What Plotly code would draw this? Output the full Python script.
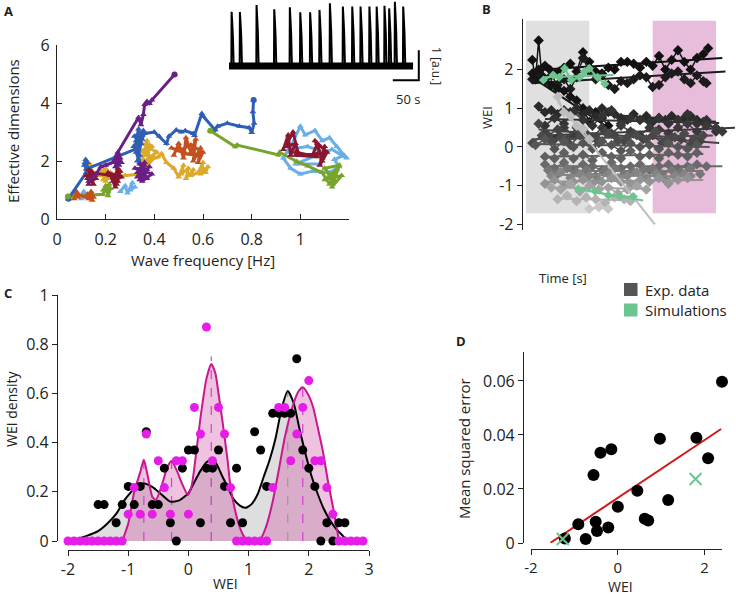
import plotly.graph_objects as go

W, H = 736, 595
FONT = "Open Sans"
INK = "#222222"

def fx(px):
    return px / W

def fy(py):
    return 1 - py / H

# ---------------- Panel A data ----------------
A_colors = {"blue": "#2f5fb5", "rust": "#c4501e", "gold": "#dcaa28", "purple": "#6a1f86",
            "green": "#77a52a", "lightblue": "#6aaee6", "darkred": "#8a1630"}

A_blue_x = [0.047, 0.12, 0.115, 0.125, 0.118, 0.128, 0.112, 0.125, 0.12,
            0.32, 0.335, 0.325, 0.35, 0.315, 0.34, 0.33, 0.345, 0.318, 0.355, 0.33, 0.34, 0.325, 0.35, 0.36,
            0.40, 0.42, 0.45, 0.46, 0.49, 0.51, 0.527, 0.56, 0.565, 0.595, 0.60, 0.65, 0.66, 0.70, 0.75, 0.79, 0.80, 0.81, 0.805, 0.808]
A_blue_y = [0.70, 1.60, 1.95, 1.75, 2.05, 1.70, 1.85, 1.95, 1.72,
            2.4, 3.1, 2.7, 2.9, 2.5, 2.2, 2.0, 2.6, 2.85, 3.05, 2.7, 1.95, 2.3, 2.75, 2.95,
            3.0, 2.85, 2.6, 2.85, 3.07, 3.0, 3.04, 2.95, 2.88, 3.64, 3.55, 3.07, 3.2, 3.3, 3.2, 3.15, 2.98, 3.3, 3.7, 4.1]

A_purple_x = [0.33, 0.36, 0.34, 0.37, 0.32, 0.39, 0.35, 0.36, 0.33, 0.38, 0.35, 0.37, 0.34, None,
              0.13, 0.16, 0.18, 0.20, 0.23, 0.25, 0.24, 0.26, 0.235, 0.255, 0.245, 0.265,
              0.25, 0.335, 0.345, 0.355, 0.36, 0.37, 0.38, 0.39, 0.483]
A_purple_y = [1.6, 1.95, 1.35, 1.7, 1.75, 1.55, 1.3, 1.85, 1.45, 1.8, 1.6, 1.4, 1.9, None,
              1.3, 1.55, 1.8, 1.85, 1.95, 2.25, 1.8, 2.1, 2.0, 1.85, 2.2, 1.95,
              2.3, 3.5, 3.25, 3.6, 3.95, 4.05, 3.98, 4.1, 4.98]

A_darkred_x = [0.13, 0.14, 0.125, 0.155, 0.13, 0.15, 0.12, 0.16, 0.14, 0.145,
               0.22, 0.24, 0.25, 0.23, 0.265, 0.21, 0.245, 0.26, 0.235, 0.25, None,
               0.93, 0.95, 0.96, 0.98, 0.94, 0.97, 0.99, 1.0, 0.98, 1.07, 0.98, 1.07, 1.06,
               1.05, 1.07, 1.09, 1.10, 1.08, 1.11, 1.06, 1.09]
A_darkred_y = [1.2, 1.65, 1.4, 1.5, 1.7, 1.2, 1.5, 1.4, 1.3, 1.6,
               1.5, 1.1, 1.75, 1.3, 1.45, 1.6, 1.2, 1.65, 1.45, 1.3, None,
               2.4, 2.9, 2.2, 2.6, 2.5, 3.0, 2.3, 2.2, 2.3, 2.15, 2.2, 2.25, 2.2,
               2.2, 2.6, 2.0, 2.5, 1.85, 2.3, 2.7, 2.1]

A_gold_x = [0.135, 0.14, 0.15, 0.18, 0.20, 0.19, 0.21, 0.20, 0.22, 0.185, 0.215,
            0.28, 0.35, 0.35, 0.37, 0.36, 0.39, 0.34, 0.40, 0.37, 0.38, 0.35, 0.41, 0.36,
            0.415, 0.43, 0.45, 0.48, 0.50, 0.52, 0.51, 0.54, 0.53, 0.56, 0.55, 0.58, 0.60, 0.59, 0.62, 0.61, 0.60]
A_gold_y = [1.9, 1.7, 1.55, 1.5, 1.75, 1.35, 1.55, 1.3, 1.6, 1.65, 1.4,
            1.5, 1.55, 2.0, 2.7, 2.2, 2.5, 2.35, 2.1, 1.85, 2.55, 2.6, 2.3, 2.0,
            2.14, 2.25, 1.95, 1.75, 1.45, 1.85, 1.55, 1.75, 1.4, 1.7, 1.5, 1.6, 1.95, 1.55, 1.8, 1.6, 1.75]

A_rust_x = [0.07, 0.08, 0.085, 0.075, 0.13, 0.14, 0.15, 0.125, 0.145, None,
            0.48, 0.50, 0.52, 0.53, 0.55, 0.57, 0.56, 0.59, 0.58, 0.60, 0.55, 0.50, 0.47, 0.53, 0.57]
A_rust_y = [0.7, 0.95, 0.75, 0.9, 0.7, 0.95, 0.75, 0.85, 0.65, None,
            2.2, 2.6, 2.1, 2.8, 2.3, 2.75, 2.0, 2.45, 1.95, 2.3, 2.55, 2.35, 2.45, 2.25, 2.2]

A_lightblue_x = [0.10, 0.11, 0.12, 0.105, None, 0.26, 0.28, 0.29, 0.31, 0.30, 0.32, None,
                 0.95, 1.0, 1.02, 1.06, 1.09, 1.12, 1.15, 1.18, 1.14, 1.16, 1.12, 1.05, 1.0, 0.96,
                 0.93, 0.95, 1.03, 1.10, 1.08, 0.98, 1.13, 1.19]
A_lightblue_y = [0.7, 0.95, 0.75, 0.85, None, 0.95, 1.15, 0.9, 1.25, 1.0, 1.1, None,
                 2.3, 3.2, 2.9, 3.05, 2.7, 2.8, 2.5, 2.2, 2.05, 1.8, 1.6, 1.65, 1.55, 1.75,
                 2.1, 2.4, 2.5, 2.3, 1.9, 1.9, 2.4, 2.1]

A_green_x = [0.045, 0.19, 0.20, 0.21, 0.22, 0.20, 0.215, 0.19, None,
             0.63, 0.733, 0.74, 0.911, 0.915, 0.986, 1.03, 1.09, 1.12, 1.15, 1.10, 1.17, 1.13, 1.16, 1.10, 1.14, 1.12]
A_green_y = [0.78, 0.85, 1.15, 0.8, 1.05, 0.95, 1.2, 1.0, None,
             3.04, 2.49, 2.55, 2.21, 2.3, 1.98, 1.83, 1.6, 1.2, 1.7, 1.35, 1.5, 1.1, 1.85, 1.75, 1.3, 1.55]

A_traces = [("lightblue", A_lightblue_x, A_lightblue_y), ("green", A_green_x, A_green_y),
            ("gold", A_gold_x, A_gold_y), ("rust", A_rust_x, A_rust_y),
            ("blue", A_blue_x, A_blue_y), ("darkred", A_darkred_x, A_darkred_y),
            ("purple", A_purple_x, A_purple_y)]

A_xticks = [0, 0.2, 0.4, 0.6, 0.8, 1]
A_xticklabels = ["0", "0.2", "0.4", "0.6", "0.8", "1"]
A_yticks = [0, 2, 4, 6]

# Inset trace: spike times [s] and heights [a.u.]
spike_t = [5, 21, 53, 87, 117, 137, 156, 174, 194, 219, 237, 253, 270, 284, 299, 308, 319, 335]
spike_h = [1.81, 1.8, 2.03, 1.89, 1.96, 1.79, 1.79, 1.87, 2.09, 1.98, 1.98, 1.98, 1.98, 1.98, 2.01, 1.92, 2.14, 1.98]
trace_span = [0, 354]
scalebar_t = [315, 365]   # 50 s
scalebar_v = [-0.47, 0.53]  # 1 a.u.

# ---------------- Panel B data ----------------
B_times = [
    [20, 30, 40, 50, 60, 75, 90, 105, 120, 140, 160, 180, 200, 220, 240, 260, 280, 300, 320, 340, 360, 380, 400, 420, 440, 460, 480, 500, 520, 540, 560, 575],
    [20, 40, 60, 80, 100, 120, 140, 160, 180, 200, 220, 240, 260, 280, 300, 320, 340, 360, 380, 400, 420, 440, 460, 480, 500, 520, 540, 560, 570],
    [20, 40, 60, 80, 100, 120, 140, 160, 180, 200, 220, 240, 260],
    [40, 60, 80, 100, 120, 140, 160, 180, 200, 220, 240, 260, 280, 300, 320, 340, 360, 380, 400, 420, 440, 460, 480, 500, 520, 540, 560],
    [60, 90, 120, 150, 180, 210, 240, 270, 300, 330, 360, 390, 420, 450, 480, 510, 540, 570, 600],
    [60, 90, 120, 150, 180, 210, 240, 270, 300, 330, 360, 390, 420, 450, 480, 510, 540, 570, 600, 620],
    [40, 70, 100, 130, 160, 190, 220, 250, 280, 310, 340, 370, 400, 430, 460, 490, 520, 550],
    [20, 50, 80, 110, 140, 170, 200, 230, 260, 290, 320, 350, 380, 410, 440, 470, 500, 530, 560],
    [30, 60, 90, 120, 150, 180, 210, 240, 270, 300, 330, 360, 390, 420, 450, 480, 510, 540],
    [60, 90, 120, 150, 180, 210, 240, 270, 300, 330, 360, 390, 420, 450, 480, 510, 540],
    [60, 90, 120, 150, 180, 210, 240, 270, 300, 330, 360, 390, 420, 450, 480, 510, 540, 570],
    [70, 100, 130, 160, 190, 220, 250, 280, 310, 340, 370, 400, 430, 460, 490, 520, 550],
    [80, 110, 140, 170, 200, 230, 260, 290, 320, 350, 380, 410, 440, 470, 500, 520],
    [60, 90, 120, 150, 180, 210, 240, 270, 300, 330, 360, 390, 420, 450, 480, 510],
    [80, 110, 140, 170, 200, 230, 260, 290, 320, 350, 380],
    [100, 130, 160, 190, 220, 250, 280, 310, 330],
    [100, 120, 140, 160, 180, 200],
    [200, 230, 260],
]
B_values = [
    [2.25, 1.75, 2.75, 1.85, 2.1, 2.0, 1.9, 1.95, 2.05, 2.15, 1.95, 2.45, 2.2, 1.95, 1.9, 2.05, 2.0, 2.2, 2.2, 2.15, 2.05, 2.2, 2.1, 2.35, 2.0, 2.25, 2.5, 2.2, 2.0, 2.3, 2.4, 2.55],
    [1.75, 1.95, 1.7, 1.85, 1.6, 1.75, 1.5, 1.8, 2.3, 1.95, 1.75, 1.85, 1.6, 1.5, 1.7, 1.65, 1.75, 1.85, 1.8, 1.55, 1.6, 1.8, 1.9, 1.95, 1.75, 1.65, 1.85, 1.7, 1.65],
    [1.9, 2.0, 1.75, 1.6, 1.5, 1.45, 1.3, 1.2, 1.0, 0.65, 0.9, 0.75, 0.55],
    [1.05, 0.9, 0.95, 0.85, 0.95, 0.9, 1.0, 0.85, 0.95, 0.8, 1.0, 0.9, 0.85, 0.75, 0.7, 0.85, 0.7, 0.8, 0.65, 0.75, 0.7, 0.8, 0.7, 0.75, 0.8, 0.7, 0.65],
    [0.55, 0.75, 0.6, 0.9, 0.7, 0.55, 0.8, 0.95, 0.6, 0.75, 0.7, 0.65, 0.75, 0.6, 0.7, 0.85, 0.6, 0.7, 0.4],
    [0.35, 0.2, 0.5, 0.3, 0.45, 0.25, 0.5, 0.35, 0.55, 0.4, 0.3, 0.5, 0.45, 0.35, 0.5, 0.6, 0.4, 0.55, 0.5, 0.4],
    [0.6, 0.3, 0.45, 0.2, 0.5, 0.35, 0.25, 0.4, 0.3, 0.15, 0.35, 0.2, 0.3, 0.1, 0.25, 0.2, 0.05, 0.15],
    [0.1, 0.3, 0.15, 0.25, 0.05, 0.3, 0.2, 0.1, 0.35, 0.15, 0.25, 0.3, 0.2, 0.4, 0.15, 0.25, 0.35, 0.2, 0.3],
    [0.05, 0.2, -0.05, 0.15, 0.0, 0.1, -0.05, 0.15, 0.05, -0.1, 0.1, 0.0, 0.05, -0.05, 0.1, 0.0, -0.05, 0.05],
    [-0.25, -0.3, -0.15, -0.3, -0.2, -0.35, -0.15, -0.25, -0.3, -0.1, -0.25, -0.2, -0.3, -0.15, -0.2, -0.25, -0.15],
    [-0.45, -0.55, -0.4, -0.6, -0.45, -0.5, -0.6, -0.4, -0.55, -0.5, -0.45, -0.6, -0.5, -0.45, -0.55, -0.5, -0.45, -0.5],
    [-0.6, -0.7, -0.55, -0.65, -0.6, -0.75, -0.6, -0.55, -0.7, -0.65, -0.6, -0.55, -0.7, -0.6, -0.65, -0.55, -0.7],
    [-0.75, -0.65, -0.8, -0.7, -0.75, -0.85, -0.7, -0.8, -0.75, -0.65, -0.8, -0.7, -0.85, -0.75, -0.7, -0.75],
    [-0.95, -0.85, -1.0, -0.9, -0.85, -0.95, -0.9, -0.8, -0.9, -0.95, -0.85, -0.9, -0.8, -0.95, -0.85, -0.8],
    [-1.05, -1.1, -0.95, -1.15, -1.0, -1.1, -1.05, -1.2, -1.1, -1.0, -1.1],
    [-1.35, -1.25, -1.4, -1.3, -1.35, -1.45, -1.3, -1.35, -1.4],
    [1.3, 0.9, 0.8, 0.55, 0.45, 0.2],
    [-1.6, -1.55, -1.6],
]
B_fit_t = [[20, 620], [20, 630], [20, 260], [40, 600], [60, 610], [60, 665], [40, 610], [20, 590],
           [30, 580], [60, 560], [60, 620], [70, 560], [80, 520], [60, 560], [80, 380], [100, 340],
           [100, 407], [200, 260]]
B_fit_v = [[1.98, 2.3], [1.65, 1.95], [1.8, 0.5], [0.95, 0.65], [0.72, 0.62], [0.3, 0.5], [0.45, 0.1], [0.2, 0.3],
           [0.08, 0.0], [-0.25, -0.18], [-0.5, -0.5], [-0.62, -0.62], [-0.72, -0.76], [-0.9, -0.85], [-1.05, -1.08], [-1.33, -1.38],
           [1.17, -2.0], [-1.58, -1.58]]
B_grays = ["#111111", "#1c1c1c", "#141414", "#2a2a2a", "#333333", "#3a3a3a", "#444444", "#4a4a4a",
           "#555555", "#606060", "#6a6a6a", "#777777", "#858585", "#939393", "#a3a3a3", "#b3b3b3",
           "#bdbdbd", "#c8c8c8"]

B_sim_times = [[55, 86, 105, 122, 143, 169, 185, 200, 226, 249], [165, 218, 260, 297, 339]]
B_sim_values = [[1.73, 1.86, 1.8, 2.03, 1.73, 1.8, 1.95, 2.03, 1.8, 1.63], [-1.09, -1.14, -1.25, -1.28, -1.28]]
B_sim_fit_t = [[55, 276], [165, 370]]
B_sim_fit_v = [[1.8, 1.86], [-1.09, -1.38]]

B_windows = [[0, 200], [400, 600]]
B_window_colors = ["#e0e0e0", "#e8bddc"]
B_window_y = [-1.71, 3.26]
B_xticks = [0, 200, 400, 600]
B_yticks = [-2, -1, 0, 1, 2]

legend_labels = ["Exp. data", "Simulations"]
legend_colors = ["#555555", "#6cc48e"]

# ---------------- Panel C data ----------------
C_black_x = [-1.5, -1.4, -1.2, -1.1, -1.0, -0.9, -0.8, -0.7, -0.6, -0.5, -0.4, -0.3, -0.2, -0.1, 0.0, 0.1, 0.2, 0.3, 0.4, 0.5,
             0.6, 0.7, 0.8, 0.9, 1.1, 1.2, 1.3, 1.4, 1.5, 1.6, 1.7, 1.8, 1.9, 2.0, 2.1, 2.2, 2.3, 2.4, 2.5, 2.6]
C_black_y = [0.148, 0.148, 0.074, 0.148, 0.222, 0.148, 0.222, 0.444, 0.148, 0.148, 0.296, 0.074, 0.0, 0.296, 0.370, 0.370, 0.074, 0.296, 0.296, 0.370,
             0.222, 0.074, 0.296, 0.074, 0.444, 0.370, 0.222, 0.519, 0.519, 0.519, 0.519, 0.741, 0.370, 0.296, 0.222, 0.0, 0.074, 0.0, 0.074, 0.074]
C_mag_x = [-2.0, -1.9, -1.8, -1.7, -1.6, -1.5, -1.4, -1.3, -1.2, -1.1, -1.0, -0.9, -0.8, -0.7, -0.6, -0.5, -0.4, -0.3, -0.2, -0.1,
           0.0, 0.1, 0.2, 0.3, 0.4, 0.5, 0.6, 0.7, 0.8, 0.9, 1.0, 1.1, 1.2, 1.3, 1.4, 1.5, 1.6, 1.7, 1.8, 1.9,
           2.0, 2.1, 2.2, 2.3, 2.4, 2.5, 2.6, 2.7, 2.8, 2.9]
C_mag_y = [0, 0, 0, 0, 0, 0, 0, 0, 0, 0, 0.109, 0.217, 0.109, 0.435, 0.109, 0.326, 0.217, 0.109, 0.326, 0.326,
           0.109, 0.543, 0.435, 0.870, 0.326, 0.543, 0.435, 0.217, 0, 0, 0, 0, 0, 0, 0.217, 0.543, 0.543, 0.326, 0.435, 0.543,
           0.652, 0.326, 0.326, 0.217, 0.109, 0, 0, 0, 0, 0]
C_kde_black_x = [-2.0, -1.9, -1.7, -1.5, -1.35, -1.2, -1.05, -0.95, -0.85, -0.74, -0.6, -0.45, -0.3, -0.15, 0.0, 0.1, 0.2, 0.3, 0.38, 0.45,
                 0.55, 0.65, 0.75, 0.85, 0.95, 1.05, 1.15, 1.25, 1.35, 1.45, 1.55, 1.65, 1.75, 1.85, 1.95, 2.05, 2.15, 2.25, 2.35, 2.45, 2.55, 2.65]
C_kde_black_y = [0.0, 0.005, 0.02, 0.04, 0.07, 0.11, 0.17, 0.2, 0.225, 0.234, 0.22, 0.19, 0.16, 0.165, 0.195, 0.24, 0.285, 0.32, 0.33, 0.32,
                 0.27, 0.22, 0.17, 0.145, 0.135, 0.15, 0.19, 0.26, 0.33, 0.42, 0.54, 0.61, 0.56, 0.45, 0.35, 0.26, 0.19, 0.13, 0.085, 0.05, 0.025, 0.0]
C_kde_mag_x = [-1.1, -1.0, -0.9, -0.8, -0.74, -0.68, -0.6, -0.54, -0.45, -0.35, -0.28, -0.2, -0.1, -0.01, 0.05, 0.1, 0.2, 0.3, 0.38, 0.45,
               0.5, 0.57, 0.65, 0.7, 0.78, 0.85, 0.92, 1.0, 1.1, 1.2, 1.29, 1.4, 1.51, 1.6, 1.73, 1.82, 1.9, 1.98, 2.07, 2.15,
               2.23, 2.32, 2.4, 2.46, 2.5]
C_kde_mag_y = [0.0, 0.07, 0.2, 0.28, 0.33, 0.27, 0.18, 0.167, 0.22, 0.30, 0.325, 0.29, 0.23, 0.187, 0.22, 0.30, 0.5, 0.66, 0.72, 0.68,
               0.6, 0.48, 0.33, 0.22, 0.12, 0.058, 0.02, 0.0, 0.0, 0.01, 0.058, 0.16, 0.30, 0.42, 0.546, 0.605, 0.625, 0.6, 0.546, 0.46,
               0.37, 0.24, 0.14, 0.06, 0.0]
C_peaks_black_x = [0.38, 1.65]
C_peaks_black_y = [0.33, 0.61]
C_peaks_mag_x = [-0.74, -0.28, 0.38, 1.9]
C_peaks_mag_y = [0.33, 0.33, 0.75, 0.66]
C_xticks = [-2, -1, 0, 1, 2, 3]
C_yticks = [0, 0.2, 0.4, 0.6, 0.8, 1]

# ---------------- Panel D data ----------------
D_x = [2.4, 0.97, 1.81, 2.08, -0.4, -0.15, -0.56, 0.45, 1.16, 0.0, 0.62, 0.70, -0.51, -0.91, -0.48, -0.22, -0.74, -1.22]
D_y = [0.0597, 0.0386, 0.039, 0.0314, 0.0334, 0.0347, 0.0252, 0.0193, 0.0159, 0.0134, 0.009, 0.0083, 0.0079, 0.0069, 0.0044, 0.0057, 0.0015, 0.0017]
D_sim_x = [1.79, -1.27]
D_sim_y = [0.0237, 0.0015]
D_fit_x = [-1.55, 2.38]
D_fit_y = [0.0001, 0.0422]
D_xticks = [-2, 0, 2]
D_yticks = [0, 0.02, 0.04, 0.06]
D_yticklabels = ["0", "0.02", "0.04", "0.06"]

SIM_GREEN = "#6cc48e"

def lab(v):
    return ("%g" % v).replace("\u2212", "-")

fig = go.Figure()

# ---- Panel A traces ----
for name, xs, ys in A_traces:
    fig.add_trace(go.Scatter(x=xs, y=ys, xaxis="x", yaxis="y", mode="lines+markers",
                             line=dict(color=A_colors[name], width=3),
                             marker=dict(size=6, symbol="triangle-up", color=A_colors[name]),
                             showlegend=False, hoverinfo="skip", cliponaxis=False))
fig.add_trace(go.Scatter(x=[A_purple_x[-1], A_blue_x[0], A_green_x[0], A_green_x[9], A_blue_x[-1]],
                         y=[A_purple_y[-1], A_blue_y[0], A_green_y[0], A_green_y[9], A_blue_y[-1]],
                         xaxis="x", yaxis="y", mode="markers",
                         marker=dict(size=6, color=[A_colors["purple"], A_colors["blue"], A_colors["green"], A_colors["green"], A_colors["blue"]]),
                         showlegend=False, hoverinfo="skip", cliponaxis=False))

# ---- Inset trace ----
fig.add_trace(go.Scatter(x=trace_span, y=[0, 0], xaxis="x2", yaxis="y2", mode="lines",
                         line=dict(color="black", width=7), showlegend=False, hoverinfo="skip"))
sx, sy = [], []
for t, h in zip(spike_t, spike_h):
    sx += [t - 0.5, t, t + 1.2, t + 2.5, t + 4, None]
    sy += [0, h, h * 0.8, h * 0.55, 0, None]
fig.add_trace(go.Scatter(x=sx, y=sy, xaxis="x2", yaxis="y2", mode="lines",
                         line=dict(color="black", width=2), showlegend=False, hoverinfo="skip"))
fig.add_trace(go.Scatter(x=[scalebar_t[0], scalebar_t[1], scalebar_t[1]],
                         y=[scalebar_v[0], scalebar_v[0], scalebar_v[1]],
                         xaxis="x2", yaxis="y2", mode="lines",
                         line=dict(color="black", width=2), showlegend=False, hoverinfo="skip"))

# ---- Panel B traces ----
for ts, vs, ft, fv, col in zip(B_times, B_values, B_fit_t, B_fit_v, B_grays):
    fig.add_trace(go.Scatter(x=ts, y=vs, xaxis="x3", yaxis="y3", mode="lines+markers",
                             line=dict(color=col, width=1.5),
                             marker=dict(symbol="diamond", size=8, color=col),
                             showlegend=False, hoverinfo="skip"))
    fig.add_trace(go.Scatter(x=ft, y=fv, xaxis="x3", yaxis="y3", mode="lines",
                             line=dict(color=col, width=2), showlegend=False, hoverinfo="skip"))
for ts, vs, ft, fv in zip(B_sim_times, B_sim_values, B_sim_fit_t, B_sim_fit_v):
    fig.add_trace(go.Scatter(x=ts, y=vs, xaxis="x3", yaxis="y3", mode="lines+markers",
                             line=dict(color=SIM_GREEN, width=2),
                             marker=dict(symbol="diamond", size=7, color=SIM_GREEN),
                             showlegend=False, hoverinfo="skip"))
    fig.add_trace(go.Scatter(x=ft, y=fv, xaxis="x3", yaxis="y3", mode="lines",
                             line=dict(color=SIM_GREEN, width=2), showlegend=False, hoverinfo="skip"))

# ---- Panel C traces ----
fig.add_trace(go.Scatter(x=C_kde_black_x, y=C_kde_black_y, xaxis="x5", yaxis="y5", mode="lines",
                         fill="tozeroy", fillcolor="#dedede", line=dict(width=0, shape="spline", smoothing=0.6),
                         showlegend=False, hoverinfo="skip"))
fig.add_trace(go.Scatter(x=C_kde_mag_x, y=C_kde_mag_y, xaxis="x5", yaxis="y5", mode="lines",
                         fill="tozeroy", fillcolor="rgba(205,70,160,0.33)", line=dict(width=0, shape="spline", smoothing=0.6),
                         showlegend=False, hoverinfo="skip"))
px_, py_ = [], []
for x, y in zip(C_peaks_black_x, C_peaks_black_y):
    px_ += [x, x, None]
    py_ += [0, y, None]
fig.add_trace(go.Scatter(x=px_, y=py_, xaxis="x5", yaxis="y5", mode="lines",
                         line=dict(color="#9a9a9a", width=1.2, dash="dash"), showlegend=False, hoverinfo="skip"))
px_, py_ = [], []
for x, y in zip(C_peaks_mag_x, C_peaks_mag_y):
    px_ += [x, x, None]
    py_ += [0, y, None]
fig.add_trace(go.Scatter(x=px_, y=py_, xaxis="x5", yaxis="y5", mode="lines",
                         line=dict(color="#d43fd4", width=1.2, dash="dash"), showlegend=False, hoverinfo="skip"))
fig.add_trace(go.Scatter(x=C_kde_black_x, y=C_kde_black_y, xaxis="x5", yaxis="y5", mode="lines",
                         line=dict(color="black", width=2, shape="spline", smoothing=0.6),
                         showlegend=False, hoverinfo="skip"))
fig.add_trace(go.Scatter(x=C_kde_mag_x, y=C_kde_mag_y, xaxis="x5", yaxis="y5", mode="lines",
                         line=dict(color="#c8178f", width=2, shape="spline", smoothing=0.6),
                         showlegend=False, hoverinfo="skip"))
fig.add_trace(go.Scatter(x=C_black_x, y=C_black_y, xaxis="x5", yaxis="y5", mode="markers",
                         marker=dict(size=9, color="black"), showlegend=False, hoverinfo="skip", cliponaxis=False))
fig.add_trace(go.Scatter(x=C_mag_x, y=C_mag_y, xaxis="x5", yaxis="y5", mode="markers",
                         marker=dict(size=9, color="#e61ce8"), showlegend=False, hoverinfo="skip", cliponaxis=False))

# ---- Panel D traces ----
fig.add_trace(go.Scatter(x=D_fit_x, y=D_fit_y, xaxis="x6", yaxis="y6", mode="lines",
                         line=dict(color="#d01818", width=2), showlegend=False, hoverinfo="skip"))
fig.add_trace(go.Scatter(x=D_x, y=D_y, xaxis="x6", yaxis="y6", mode="markers",
                         marker=dict(size=12, color="black"), showlegend=False, hoverinfo="skip", cliponaxis=False))
fig.add_trace(go.Scatter(x=D_sim_x, y=D_sim_y, xaxis="x6", yaxis="y6", mode="markers",
                         marker=dict(size=12, symbol="x-thin", line=dict(width=2, color=SIM_GREEN), color=SIM_GREEN),
                         showlegend=False, hoverinfo="skip", cliponaxis=False))

# ---- shapes ----
shapes = []
for (t0, t1), col in zip(B_windows, B_window_colors):
    shapes.append(dict(type="rect", xref="x3", yref="y3", x0=t0, x1=t1, y0=B_window_y[0], y1=B_window_y[1],
                       fillcolor=col, line=dict(width=0), layer="below"))
legend_rows_py = [289.5, 310]
for rp, col in zip(legend_rows_py, legend_colors):
    shapes.append(dict(type="rect", xref="paper", yref="paper", x0=fx(624), x1=fx(637.5),
                       y0=fy(rp + 6.5), y1=fy(rp - 6.5), fillcolor=col, line=dict(width=0)))

axis_common = dict(showgrid=False, zeroline=False, showline=True, linecolor=INK, linewidth=1.2,
                   tickcolor=INK, tickwidth=1.2, ticklen=5, tickfont=dict(family=FONT, size=16, color=INK))

layout = dict(
    width=W, height=H, margin=dict(l=0, r=0, t=0, b=0, autoexpand=False),
    paper_bgcolor="white", plot_bgcolor="rgba(0,0,0,0)",
    font=dict(family=FONT, color=INK),
    shapes=shapes,
    showlegend=False,
    xaxis=dict(axis_common, domain=[fx(57), fx(349)], range=[0, 1.2], anchor="y", ticks="inside",
               tickvals=A_xticks, ticktext=A_xticklabels, ticklabelstandoff=6),
    yaxis=dict(axis_common, domain=[fy(219), fy(45)], range=[0, 6], anchor="x", ticks="inside",
               tickvals=A_yticks, ticktext=[lab(v) for v in A_yticks], ticklabelstandoff=3),
    xaxis2=dict(domain=[fx(229), fx(437)], range=[0, 400], anchor="y2", visible=False),
    yaxis2=dict(domain=[fy(100), 1], range=[-1.13, 2.2], anchor="x2", visible=False),
    xaxis3=dict(domain=[fx(522.8), fx(735)], range=[-10, 660], anchor="y3", visible=False),
    yaxis3=dict(axis_common, domain=[fy(230), fy(19)], range=[-2.145, 3.307], anchor="x3", ticks="outside",
                tickvals=B_yticks, ticktext=[lab(v) for v in B_yticks]),
    xaxis4=dict(axis_common, domain=[fx(526), fx(716)], range=[0, 600], anchor="y3", ticks="outside",
                tickvals=B_xticks, ticktext=[lab(v) for v in B_xticks], ticklabelstandoff=3),
    xaxis5=dict(axis_common, domain=[fx(68), fx(369)], range=[-2, 3], anchor="free", position=fy(550),
                ticks="outside", tickvals=C_xticks, ticktext=[lab(v) for v in C_xticks]),
    yaxis5=dict(axis_common, domain=[fy(541), fy(295)], range=[0, 1], anchor="free", position=fx(57),
                ticks="outside", tickvals=C_yticks, ticktext=[lab(v) for v in C_yticks]),
    xaxis6=dict(axis_common, domain=[fx(531), fx(722)], range=[-2, 2.4], anchor="free", position=fy(549),
                ticks="outside", tickvals=D_xticks, ticktext=[lab(v) for v in D_xticks],
                tickfont=dict(family=FONT, size=15, color=INK)),
    yaxis6=dict(axis_common, domain=[fy(543), fy(352)], range=[0, 0.0707], anchor="free", position=fx(523),
                ticks="outside", tickvals=D_yticks, ticktext=D_yticklabels),
)

def ann(text, px, py, size=15, angle=0, bold=False, xanchor="center"):
    return dict(text=("<b>%s</b>" % text) if bold else text, x=fx(px), y=fy(py), xref="paper", yref="paper",
                showarrow=False, textangle=angle, xanchor=xanchor, yanchor="middle",
                font=dict(family=FONT, size=size, color=INK))

anns = [
    ann("A", 8, 11, 13, bold=True),
    ann("B", 486, 9, 13, bold=True),
    ann("C", 8, 293, 13, bold=True),
    ann("D", 461, 341, 13, bold=True),
    ann("Effective dimensions", 13, 131, 15, angle=-90),
    ann("Wave frequency [Hz]", 203, 260, 15),
    ann("1 [a.u.]", 437, 66, 12, angle=90),
    ann("50 s", 408, 99, 13),
    ann("WEI", 487, 118, 13, angle=-90),
    ann("Time [s]", 563, 278, 13),
    ann("WEI density", 11, 409, 14, angle=-90),
    ann("WEI", 225, 583, 14),
    ann("Mean squared error", 464, 449, 15, angle=-90),
    ann("WEI", 620, 586, 14),
]
for rp, txt in zip(legend_rows_py, legend_labels):
    anns.append(ann(txt, 643, rp, 15, xanchor="left"))
layout["annotations"] = anns

fig.update_layout(layout)
fig.write_html("out.html", config={"displayModeBar": False},
               post_script="document.body.style.margin='0px';")
